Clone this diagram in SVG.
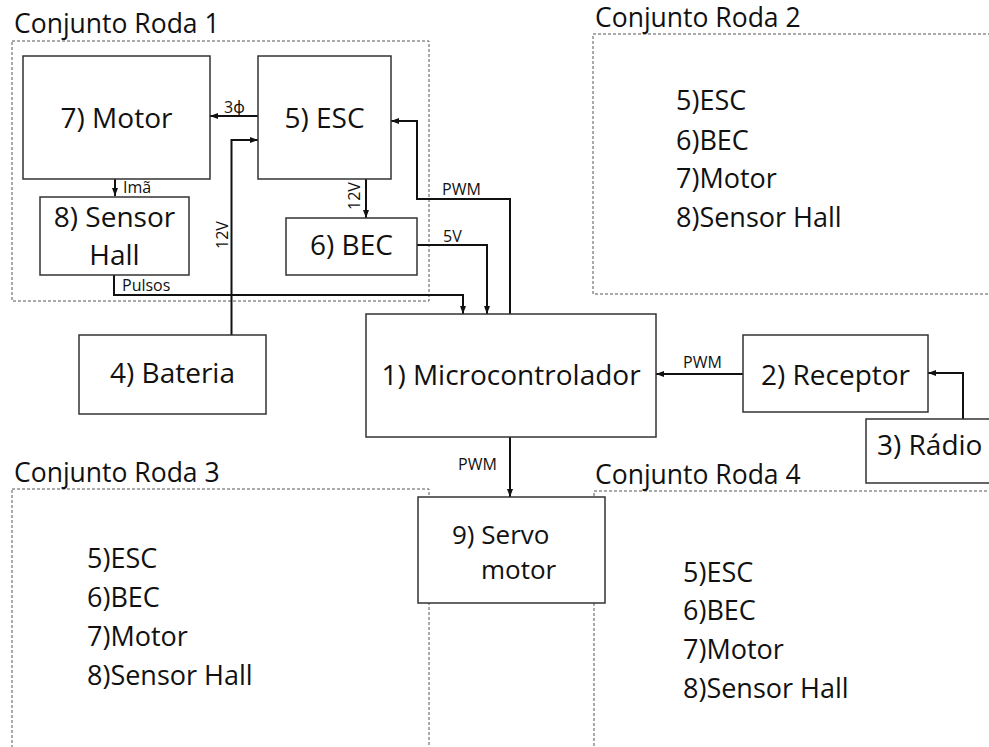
<svg xmlns="http://www.w3.org/2000/svg" width="989" height="747" viewBox="0 0 989 747">
<style>
text { font-family: "Open Sans", "Noto Sans", "DejaVu Sans", sans-serif; fill: #111; }
.title { font-size: 26.5px; }
.lbl { font-size: 28px; text-anchor: middle; }
.lbls { font-size: 28px; text-anchor: start; }
.srv { font-size: 26px; text-anchor: start; }
.list { font-size: 27px; }
.sm { font-size: 16px; }
.smr { font-size: 16px; text-anchor: middle; }
.box { fill: #fff; stroke: #333; stroke-width: 1.5; }
.grp { fill: none; stroke: #555; stroke-width: 1; stroke-dasharray: 3 2; }
.con { fill: none; stroke: #111; stroke-width: 2; marker-end: url(#ah); }
</style>
<defs>
<marker id="ah" viewBox="0 0 8 8" refX="8" refY="4" markerWidth="8" markerHeight="8" orient="auto" markerUnits="userSpaceOnUse">
<path d="M0,1 L8,4 L0,7 z" fill="#111"/>
</marker>
</defs>
<rect width="989" height="747" fill="#fff"/>

<g id="roda1">
<rect class="grp" x="12" y="41" width="417" height="260"/>
<text class="title" x="14" y="33">Conjunto Roda 1</text>
</g>
<g id="roda2">
<rect class="grp" x="593" y="34" width="420" height="260"/>
<text class="title" x="595" y="27">Conjunto Roda 2</text>
<text class="list" x="676" y="110">5)ESC</text>
<text class="list" x="676" y="150">6)BEC</text>
<text class="list" x="676" y="188">7)Motor</text>
<text class="list" x="676" y="227">8)Sensor Hall</text>
</g>
<g id="roda3">
<rect class="grp" x="12" y="489" width="417" height="300"/>
<text class="title" x="14" y="482">Conjunto Roda 3</text>
<text class="list" x="87" y="568">5)ESC</text>
<text class="list" x="87" y="607">6)BEC</text>
<text class="list" x="87" y="646">7)Motor</text>
<text class="list" x="87" y="685">8)Sensor Hall</text>
</g>
<g id="roda4">
<rect class="grp" x="594" y="491" width="420" height="300"/>
<text class="title" x="595" y="484">Conjunto Roda 4</text>
<text class="list" x="683" y="582">5)ESC</text>
<text class="list" x="683" y="620">6)BEC</text>
<text class="list" x="683" y="659">7)Motor</text>
<text class="list" x="683" y="698">8)Sensor Hall</text>
</g>

<g id="connectors">
<path class="con" d="M258,116 H210"/>
<text class="sm" x="224" y="113">3ϕ</text>
<path class="con" d="M115,179 V196"/>
<text class="sm" x="123" y="193">Imã</text>
<path class="con" d="M231.5,335 V140 H258"/>
<text class="smr" transform="translate(228,235) rotate(-90)">12V</text>
<path class="con" d="M366,179 V218"/>
<text class="smr" transform="translate(360,196) rotate(-90)">12V</text>
<path class="con" d="M510,314 V199 H417 V121 H391"/>
<text class="sm" x="442" y="195">PWM</text>
<path class="con" d="M417,245 H487 V314"/>
<text class="sm" x="443" y="242">5V</text>
<path class="con" d="M114,275 V295 H463 V314"/>
<text class="sm" x="122" y="291">Pulsos</text>
<path class="con" d="M743,374 H656"/>
<text class="sm" x="683" y="368">PWM</text>
<path class="con" d="M963,419 V373 H928"/>
<path class="con" d="M510,437 V497"/>
<text class="sm" x="458" y="470">PWM</text>
</g>

<g id="motor">
<rect class="box" x="23" y="56" width="187" height="123"/>
<text class="lbl" x="116.5" y="128">7) Motor</text>
</g>
<g id="esc">
<rect class="box" x="258" y="56" width="133" height="123"/>
<text class="lbl" x="324.5" y="128">5) ESC</text>
</g>
<g id="sensor">
<rect class="box" x="40" y="197" width="149" height="78"/>
<text class="lbl" x="114.5" y="227">8) Sensor</text>
<text class="lbl" x="114.5" y="265">Hall</text>
</g>
<g id="bec">
<rect class="box" x="286" y="218" width="131" height="57"/>
<text class="lbl" x="351.5" y="255">6) BEC</text>
</g>
<g id="bateria">
<rect class="box" x="79" y="335" width="187" height="79"/>
<text class="lbl" x="172.5" y="383">4) Bateria</text>
</g>
<g id="micro">
<rect class="box" x="366" y="314" width="290" height="123"/>
<text class="lbl" x="511" y="385">1) Microcontrolador</text>
</g>
<g id="receptor">
<rect class="box" x="743" y="335" width="185" height="77"/>
<text class="lbl" x="835.5" y="385">2) Receptor</text>
</g>
<g id="radio">
<rect class="box" x="866" y="419" width="140" height="64"/>
<text class="lbls" x="877" y="455">3) Rádio</text>
</g>
<g id="servo">
<rect class="box" x="418" y="497" width="187" height="106"/>
<text class="srv" x="452" y="544">9) Servo</text>
<text class="srv" x="481" y="579">motor</text>
</g>
</svg>
